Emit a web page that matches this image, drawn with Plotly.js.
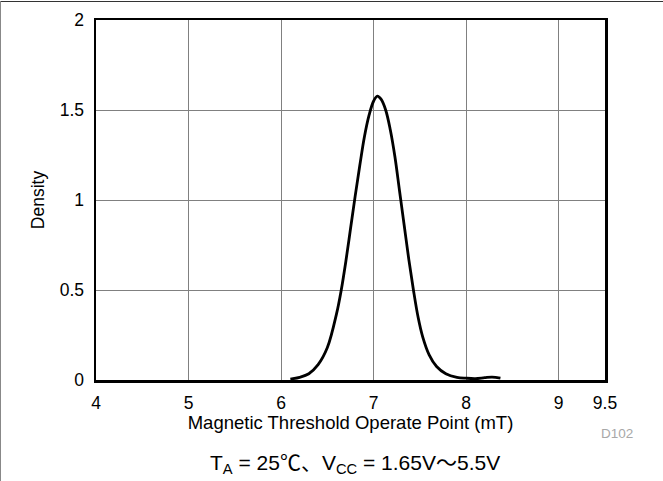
<!DOCTYPE html>
<html>
<head>
<meta charset="utf-8">
<script src="https://cdn.plot.ly/plotly-3.0.1.min.js"></script>
<style>
  html, body { margin: 0; padding: 0; background: #fff; }
  #wrap { position: relative; width: 663px; height: 481px; overflow: hidden; }
  #chart { width: 663px; height: 481px; }
  #frameTop { position: absolute; left: 0; top: 1px; width: 663px; height: 1px; background: #333; }
  #frameLeft { position: absolute; left: 0; top: 1px; width: 1px; height: 480px; background: #888; }
</style>
</head>
<body>
<div id="wrap">
  <div id="chart"></div>
  <div id="frameTop"></div>
  <div id="frameLeft"></div>
</div>
<script>
const operatePoint = [6.10, 6.20, 6.30, 6.40, 6.50, 6.60, 6.65, 6.70, 6.75, 6.80, 6.85, 6.90, 6.95, 7.00, 7.04, 7.08, 7.13, 7.18, 7.23, 7.28, 7.33, 7.38, 7.43, 7.48, 7.53, 7.60, 7.68, 7.78, 7.90, 8.00, 8.10, 8.20, 8.28, 8.37];
const density = [0.005, 0.015, 0.035, 0.085, 0.18, 0.37, 0.50, 0.66, 0.84, 1.02, 1.19, 1.35, 1.47, 1.55, 1.577, 1.56, 1.50, 1.39, 1.24, 1.05, 0.86, 0.67, 0.50, 0.35, 0.24, 0.14, 0.075, 0.035, 0.015, 0.01, 0.008, 0.013, 0.016, 0.01];
const xTicks = [4, 5, 6, 7, 8, 9, 9.5];
const xTickText = ['4', '5', '6', '7', '8', '9', '9.5'];
const yTicks = [0, 0.5, 1, 1.5, 2];
const yTickText = ['0', '0.5', '1', '1.5', '2'];

const font = 'Liberation Sans, Arial, Helvetica, Noto Sans CJK JP, sans-serif';

const trace = {
  x: operatePoint, y: density, type: 'scatter', mode: 'lines',
  line: { color: '#000', width: 2.8, shape: 'spline', smoothing: 1 },
  hoverinfo: 'skip'
};

const layout = {
  width: 663, height: 481,
  margin: { l: 96, r: 58, t: 20, b: 101 },
  paper_bgcolor: '#fff', plot_bgcolor: '#fff',
  showlegend: false,
  font: { family: font, size: 17, color: '#000' },
  xaxis: {
    range: [4, 9.5], tickvals: xTicks, ticktext: xTickText,
    showgrid: true, gridcolor: '#808080', gridwidth: 1,
    zeroline: false, showline: true, linecolor: '#000', linewidth: 2.5, mirror: true,
    ticks: '', ticklabelstandoff: 5,
    tickfont: { family: font, size: 17.5, color: '#000' },
    title: { text: 'Magnetic Threshold Operate Point (mT)', font: { family: font, size: 18.5, color: '#000' }, standoff: 1 }
  },
  yaxis: {
    range: [0, 2], tickvals: yTicks, ticktext: yTickText,
    showgrid: true, gridcolor: '#808080', gridwidth: 1,
    zeroline: false, showline: true, linecolor: '#000', linewidth: 2.5, mirror: true,
    ticks: '', ticklabelstandoff: 6,
    tickfont: { family: font, size: 17.5, color: '#000' },
    title: { text: 'Density', font: { family: font, size: 17.5, color: '#000' }, standoff: 11 }
  },
  annotations: [
    { xref: 'paper', yref: 'paper', x: 1.024, y: -0.1486, xanchor: 'center', yanchor: 'middle',
      text: 'D102', showarrow: false, font: { family: font, size: 13.5, color: '#a8a8a8' } },
    { xref: 'paper', yref: 'paper', x: 0.509, y: -0.232, xanchor: 'center', yanchor: 'middle',
      text: 'T<sub>A</sub> = 25℃、V<sub>CC</sub> = 1.65V～5.5V', showarrow: false,
      font: { family: font, size: 21, color: '#000' } }
  ]
};

Plotly.newPlot('chart', [trace], layout, { displayModeBar: false, staticPlot: true });
</script>
</body>
</html>
